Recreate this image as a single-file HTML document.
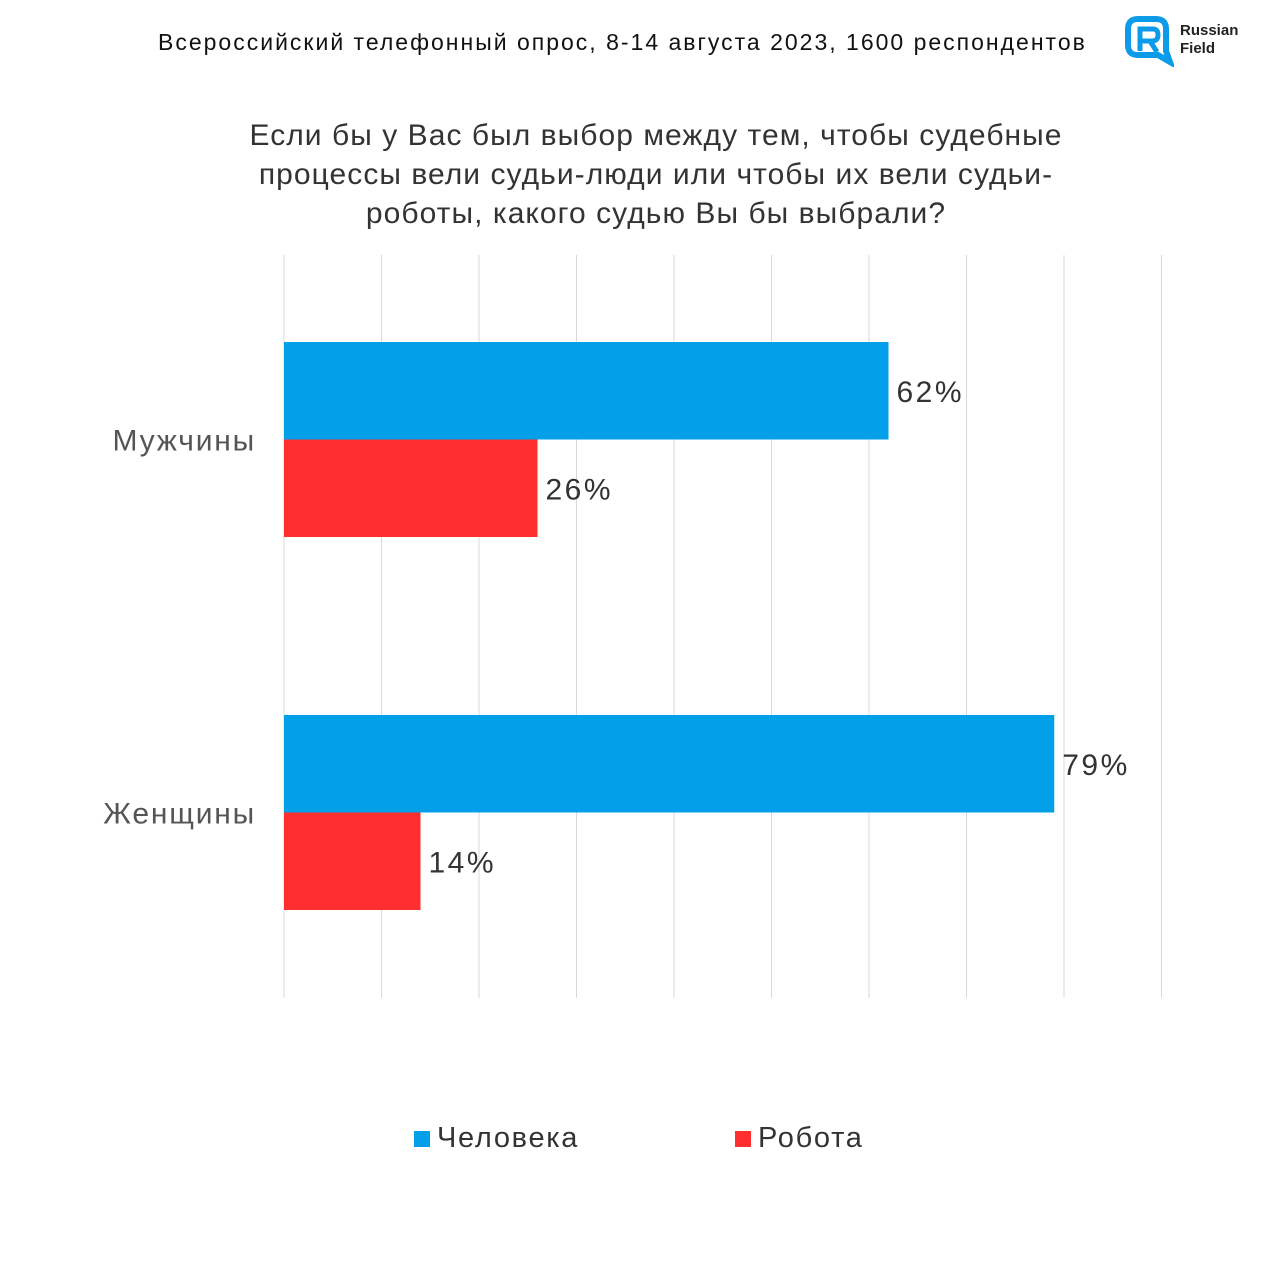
<!DOCTYPE html>
<html><head><meta charset="utf-8"><style>
body{margin:0;width:1280px;height:1280px;background:#fff;font-family:"Liberation Sans","DejaVu Sans",sans-serif;position:relative;overflow:hidden}
.t{position:absolute;white-space:nowrap}
</style></head><body>
<div class="t" style="left:158px;top:29px;font-size:23px;letter-spacing:2px;color:#111">Всероссийский телефонный опрос, 8-14 августа 2023, 1600 респондентов</div>
<svg style="position:absolute;left:1124px;top:15px" width="50" height="52" viewBox="0 0 50 52">
<path d="M4 14 Q4 4 14 4 H32 Q42 4 42 14 V36 L46 47 L34 40 H14 Q4 40 4 30 Z" fill="none" stroke="#0b9be8" stroke-width="6"/>
<path d="M16 36 V14 H29 Q34 14 34 20 Q34 26 28 26 H18 M26 26 L33 37" fill="none" stroke="#0b9be8" stroke-width="5"/>
</svg>
<div class="t" style="left:1180px;top:22px;font-size:15px;font-weight:bold;line-height:18px;color:#222">Russian<br>Field</div>
<div class="t" style="left:0;width:1312px;top:116px;text-align:center;font-size:30px;letter-spacing:1.05px;line-height:39px;color:#333">Если бы у Вас был выбор между тем, чтобы судебные<br>процессы вели судьи-люди или чтобы их вели судьи-<br>роботы, какого судью Вы бы выбрали?</div>
<svg id="c" width="1280" height="1280" style="position:absolute;left:0;top:0"></svg>
<script>
const categories=["Мужчины","Женщины"];
const human=[62,79];
const robot=[26,14];
const ticks=[0,10,20,30,40,50,60,70,80,90];
const svg=document.getElementById('c');
const NS='http://www.w3.org/2000/svg';
const x=v=>284+v*9.75;
const groupTop=[342,715];
const bh=97.5;
function mk(t,a){const e=document.createElementNS(NS,t);for(const k in a)e.setAttribute(k,a[k]);svg.appendChild(e);return e;}
ticks.forEach(v=>{const l=mk('line',{x1:x(v),x2:x(v),y1:255,y2:998,stroke:'#d9d9d9','stroke-width':1});

});
categories.forEach((c,i)=>{
 const y0=groupTop[i];
 const lb=mk('text',{x:256,y:y0+bh+11,'text-anchor':'end','font-size':30,'letter-spacing':1.8,fill:'#555','font-family':'Liberation Sans, sans-serif'});lb.textContent=c;
 
 
 [[human[i],'#039fe9',0],[robot[i],'#ff2f2f',1]].forEach(([v,col,k])=>{
  const r=mk('rect',{x:x(0),y:y0+k*bh,width:x(v)-x(0),height:bh,fill:col});
  
  
  const t=mk('text',{x:x(v)+8,y:y0+k*bh+bh/2+11,'font-size':30,'letter-spacing':2.5,fill:'#333','font-family':'Liberation Sans, sans-serif'});t.textContent=v+'%';
  
  
 });
});
</script>
<div class="t" style="left:414px;top:1122px;font-size:29px;letter-spacing:1.7px;color:#333"><span style="display:inline-block;width:16px;height:16px;background:#039fe9;margin-right:7px"></span>Человека</div>
<div class="t" style="left:735px;top:1122px;font-size:29px;letter-spacing:1.7px;color:#333"><span style="display:inline-block;width:16px;height:16px;background:#ff2f2f;margin-right:7px"></span>Робота</div>
</body></html>
